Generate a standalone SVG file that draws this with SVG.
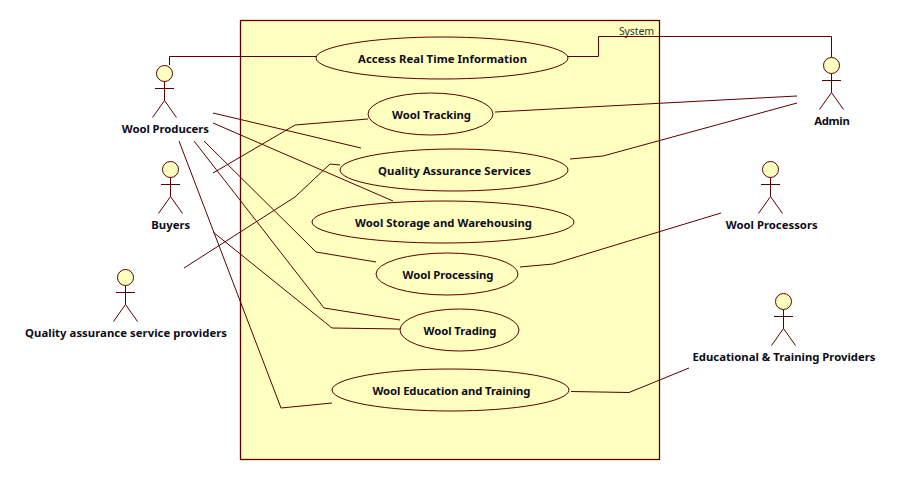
<svg xmlns="http://www.w3.org/2000/svg" width="900" height="480" viewBox="0 0 900 480">
<style>
.s{stroke:#5a0000;stroke-width:1;fill:none}
.f{fill:#ffffc0;stroke:#5a0000;stroke-width:1}
.b{stroke-width:1.300}
text{font-family:"Noto Sans","Liberation Sans",sans-serif;font-size:11.300px;font-weight:bold;fill:#0c0c18;text-anchor:middle}
.n{font-weight:normal;font-size:10.500px;fill:#333}
</style>
<defs>
<g id="actor"><circle class="f" cx="0" cy="0" r="8"/><path class="s" d="M0 8V27M-9.500 15H9.500M-12 44L0 27L12 44"/></g>
</defs>
<rect width="900" height="480" fill="#fff"/>
<g id="system"><rect class="f b" x="240.500" y="20.500" width="419" height="439"/><text class="n" x="636.500" y="35" textLength="35">System</text></g>
<g id="connectors" class="s">
<path d="M169.500 65V56.500H316"/>
<path d="M568 56.500H598.500V36.500H831.500V57"/>
<path d="M213 173L295 125L368 119"/>
<path d="M184 268L295 197L330 164L340 165"/>
<path d="M213 113L361 148"/>
<path d="M213 123L393 201"/>
<path d="M204 141L316 252L376 262"/>
<path d="M194 141L324 308L400 320"/>
<path d="M213 232L332 328L400 329"/>
<path d="M179 141L281 408L332 403"/>
<path d="M495 112L797 96"/>
<path d="M570 159L603 156L797 103"/>
<path d="M520 267L553 264L721 213"/>
<path d="M571 391.500L629 392.500L689 368"/>
</g>
<g id="uc1"><ellipse class="f" cx="442" cy="58" rx="126" ry="21"/><text x="442.500" y="63" textLength="169">Access Real Time Information</text></g>
<g id="uc2"><ellipse class="f" cx="430.500" cy="114" rx="62.500" ry="21"/><text x="431.500" y="119" textLength="79">Wool Tracking</text></g>
<g id="uc3"><ellipse class="f" cx="454" cy="170" rx="114" ry="21"/><text x="454.500" y="175" textLength="153">Quality Assurance Services</text></g>
<g id="uc4"><ellipse class="f" cx="443" cy="222" rx="131" ry="21"/><text x="443.500" y="227" textLength="177">Wool Storage and Warehousing</text></g>
<g id="uc5"><ellipse class="f" cx="447" cy="274" rx="71" ry="21"/><text x="448" y="279" textLength="91">Wool Processing</text></g>
<g id="uc6"><ellipse class="f" cx="459.500" cy="330" rx="59.500" ry="21"/><text x="460" y="335" textLength="73">Wool Trading</text></g>
<g id="uc7"><ellipse class="f" cx="450.500" cy="390" rx="118.500" ry="21"/><text x="451.500" y="395" textLength="158">Wool Education and Training</text></g>
<g id="a1"><use href="#actor" x="164.500" y="73.500"/><text x="165.300" y="133" textLength="87">Wool Producers</text></g>
<g id="a2"><use href="#actor" x="170.500" y="169.500"/><text x="170.700" y="229" textLength="39">Buyers</text></g>
<g id="a3"><use href="#actor" x="125.500" y="277.500"/><text x="126" y="337" textLength="202">Quality assurance service providers</text></g>
<g id="a4"><use href="#actor" x="831.500" y="65.500"/><text x="832" y="125" textLength="35.500">Admin</text></g>
<g id="a5"><use href="#actor" x="770.500" y="169.500"/><text x="771.700" y="229" textLength="92">Wool Processors</text></g>
<g id="a6"><use href="#actor" x="783.500" y="301.500"/><text x="784" y="361" textLength="183">Educational &amp; Training Providers</text></g>
</svg>
